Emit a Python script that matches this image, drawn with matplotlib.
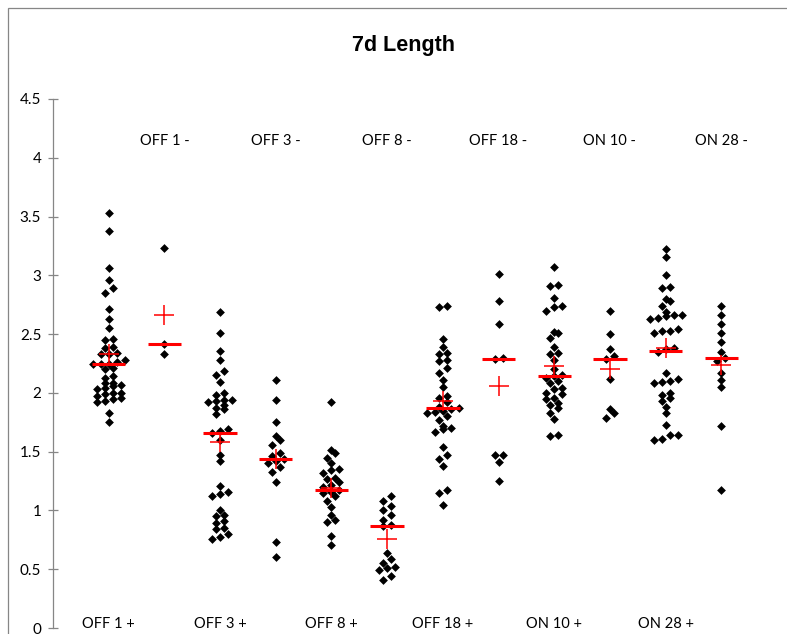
import numpy as np
import matplotlib
matplotlib.use('Agg')
import matplotlib.pyplot as plt
from matplotlib.patches import Rectangle

plt.rcParams['font.family'] = ['Lato', 'DejaVu Sans']

# Groups along the x axis: "+" groups on odd slots, "-" groups on even slots
groups = ['OFF 1 +', 'OFF 1 -', 'OFF 3 +', 'OFF 3 -', 'OFF 8 +', 'OFF 8 -',
          'OFF 18 +', 'OFF 18 -', 'ON 10 +', 'ON 10 -', 'ON 28 +', 'ON 28 -']

off1_pos = [3.53, 3.38, 3.06, 2.96, 2.89, 2.85, 2.71, 2.63, 2.55, 2.46, 2.45,
            2.39, 2.38, 2.34, 2.33, 2.33, 2.28, 2.26, 2.25, 2.25, 2.25, 2.21,
            2.20, 2.14, 2.13, 2.08, 2.08, 2.07, 2.06, 2.04, 2.03, 2.00, 2.00,
            1.99, 1.97, 1.96, 1.95, 1.93, 1.92, 1.83, 1.75]
off1_neg = [3.23, 2.42, 2.33]
off3_pos = [2.69, 2.51, 2.36, 2.28, 2.19, 2.15, 2.09, 2.00, 1.98, 1.94, 1.94,
            1.93, 1.92, 1.90, 1.87, 1.86, 1.82, 1.69, 1.68, 1.66, 1.60, 1.47,
            1.42, 1.21, 1.16, 1.14, 1.12, 1.00, 0.96, 0.95, 0.91, 0.89, 0.85,
            0.84, 0.80, 0.77, 0.76]
off3_neg = [2.11, 1.94, 1.75, 1.63, 1.60, 1.56, 1.49, 1.46, 1.44, 1.42, 1.40,
            1.37, 1.33, 1.24, 0.73, 0.60]
off8_pos = [1.92, 1.51, 1.49, 1.45, 1.40, 1.35, 1.34, 1.32, 1.28, 1.27, 1.24,
            1.22, 1.20, 1.17, 1.16, 1.15, 1.12, 1.08, 1.03, 0.96, 0.92, 0.90,
            0.78, 0.71]
off8_neg = [1.12, 1.08, 1.04, 1.00, 0.96, 0.92, 0.88, 0.87, 0.64, 0.59, 0.55,
            0.52, 0.51, 0.49, 0.44, 0.41]
off18_pos = [2.74, 2.73, 2.46, 2.39, 2.34, 2.33, 2.28, 2.27, 2.21, 2.17, 2.11,
             2.05, 1.97, 1.96, 1.92, 1.88, 1.87, 1.86, 1.85, 1.84, 1.83, 1.80,
             1.77, 1.72, 1.70, 1.69, 1.67, 1.54, 1.47, 1.44, 1.38, 1.17, 1.15,
             1.05]
off18_neg = [3.01, 2.78, 2.59, 2.30, 2.29, 1.47, 1.47, 1.41, 1.25]
on10_pos = [3.07, 2.92, 2.91, 2.81, 2.74, 2.73, 2.70, 2.52, 2.51, 2.47, 2.39,
            2.34, 2.33, 2.28, 2.20, 2.15, 2.14, 2.13, 2.10, 2.08, 2.04, 2.03,
            2.00, 1.99, 1.96, 1.95, 1.91, 1.90, 1.87, 1.83, 1.78, 1.64, 1.63]
on10_neg = [2.70, 2.50, 2.37, 2.31, 2.29, 2.12, 1.86, 1.83, 1.79]
on28_pos = [3.22, 3.16, 3.00, 2.90, 2.89, 2.80, 2.78, 2.74, 2.69, 2.66, 2.66,
            2.65, 2.64, 2.63, 2.54, 2.53, 2.53, 2.51, 2.38, 2.37, 2.35, 2.17,
            2.12, 2.10, 2.09, 2.08, 2.00, 1.98, 1.96, 1.93, 1.88, 1.83, 1.73,
            1.64, 1.64, 1.61, 1.60]
on28_neg = [2.74, 2.66, 2.59, 2.51, 2.43, 2.35, 2.30, 2.27, 2.17, 2.11, 2.05,
            1.72, 1.17]

series = [off1_pos, off1_neg, off3_pos, off3_neg, off8_pos, off8_neg,
          off18_pos, off18_neg, on10_pos, on10_neg, on28_pos, on28_neg]

# Summary marks: median (red bar) and mean (red cross)
medians = [2.25, 2.42, 1.66, 1.44, 1.17, 0.87, 1.87, 2.29, 2.14, 2.29, 2.36, 2.30]
means = [2.33, 2.66, 1.58, 1.44, 1.19, 0.76, 1.93, 2.06, 2.23, 2.20, 2.38, 2.24]

label_top_y = 4.14
label_bottom_y = 0.03


def swarm_offsets(values, bin_width=0.045, step=0.144):
    vals = np.asarray(values, dtype=float)
    order = np.argsort(vals)
    offsets = np.zeros(len(vals))
    rows = [[order[0]]]
    for i in order[1:]:
        if vals[i] - vals[rows[-1][0]] < bin_width:
            rows[-1].append(i)
        else:
            rows.append([i])
    for row in rows:
        n = len(row)
        for k, idx in enumerate(row):
            offsets[idx] = (k - (n - 1) / 2) * step
    return offsets


fig = plt.figure(figsize=(7.87, 6.34), dpi=100)
ax = fig.add_axes([53 / 787, 1 - 628 / 634, (777 - 53) / 787, (628 - 99) / 634])

for i, vals in enumerate(series):
    xpos = i + 1
    ax.scatter(xpos + swarm_offsets(vals), vals, marker='D', s=20,
               color='black', linewidths=0, zorder=2)
    ax.hlines(medians[i], xpos - 0.3, xpos + 0.3, color='#ff0000',
              lw=2.2, zorder=3)
    ax.plot(xpos, means[i], marker='+', ms=14, mew=1.1, color='#ff0000',
            zorder=4)

    if i % 2 == 0:
        ax.text(xpos, label_bottom_y, groups[i], ha='center', va='center',
                fontsize=10.5, clip_on=False)
    else:
        ax.text(xpos, label_top_y, groups[i], ha='center', va='center',
                fontsize=10.5)

ax.set_xlim(0, 13)
ax.set_ylim(0, 4.5)
ax.set_yticks(np.arange(0, 4.6, 0.5))
ax.set_yticklabels(['0', '0.5', '1', '1.5', '2', '2.5', '3', '3.5', '4', '4.5'])
ax.set_xticks([])
for side in ['top', 'right', 'bottom']:
    ax.spines[side].set_visible(False)
ax.spines['left'].set_color('#868686')
ax.spines['left'].set_linewidth(0.9)
ax.tick_params(axis='y', direction='inout', length=7, width=0.9,
               color='#868686', labelsize=11, pad=5)

fig.text(403 / 787, 1 - 46 / 634, '7d Length', ha='center', va='center',
         fontsize=15.5, fontweight='bold', family=['Liberation Sans', 'DejaVu Sans'])

# Chart area border
fig.add_artist(Rectangle((7.5 / 787, -0.1), 1.2, 1.1 - 8 / 634,
                         transform=fig.transFigure, fill=False,
                         edgecolor='#868686', lw=0.9))

fig.savefig('out.png', dpi=100)
